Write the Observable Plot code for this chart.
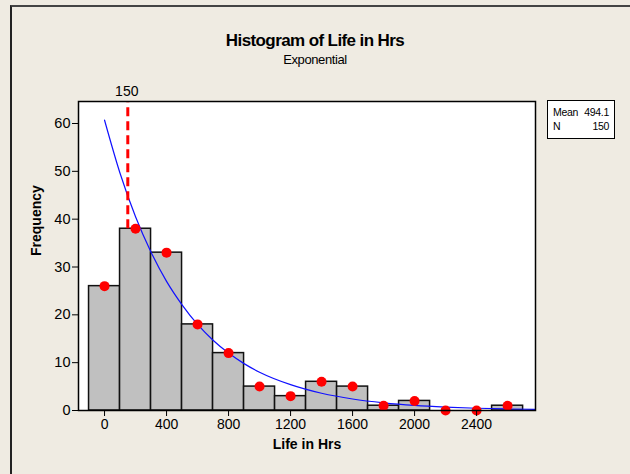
<!DOCTYPE html>
<html>
<head>
<meta charset="utf-8">
<script src="https://cdn.jsdelivr.net/npm/d3@7"></script>
<script src="https://cdn.jsdelivr.net/npm/@observablehq/plot@0.6"></script>
<style>
  html, body { margin: 0; padding: 0; background: #efebe2; }
  #wrap { position: relative; width: 630px; height: 474px; overflow: hidden; background: #efebe2; font-family: "Liberation Sans", Arial, sans-serif; }
  #border { position: absolute; left: 10px; top: 5px; width: 640px; height: 480px; border-left: 2px solid #222; border-top: 2px solid #444; box-sizing: border-box; }
  #title { position: absolute; left: 0; width: 630px; top: 31px; text-align: center; font-weight: bold; font-size: 17px; letter-spacing: -0.6px; color: #000; }
  #subtitle { position: absolute; left: 0; width: 630px; top: 52px; text-align: center; font-size: 13px; letter-spacing: -0.4px; color: #000; }
  #legend { position: absolute; left: 547px; top: 100px; width: 68px; height: 39px; border: 1px solid #000; background: #fff; box-sizing: border-box; font-size: 10.5px; letter-spacing: -0.3px; }
  #legend div { display: flex; justify-content: space-between; padding: 0 5px 0 5px; line-height: 14px; }
  #legend div:first-child { margin-top: 4px; }
  #chart { position: absolute; left: 0; top: 0; }
</style>
</head>
<body>
<div id="wrap">
  <div id="border"></div>
  <div id="chart"></div>
  <div id="title">Histogram of Life in Hrs</div>
  <div id="subtitle">Exponential</div>
  <div id="legend"></div>
</div>
<script>
// Bin centers (bin width 200) and counts
const binCenters = [0, 200, 400, 600, 800, 1000, 1200, 1400, 1600, 1800, 2000, 2200, 2400, 2600];
const counts     = [26, 38, 33, 18, 12, 5, 3, 6, 5, 1, 2, 0, 0, 1];
const binWidth = 200;

// Fitted exponential curve points
const curveX = [0, 100, 200, 300, 400, 500, 600, 700, 800, 900, 1000, 1200, 1400, 1600, 1800, 2000, 2200, 2400, 2600, 2780];
const curveY = [60.7, 49.6, 40.5, 33.1, 27.0, 22.1, 18.0, 14.7, 12.0, 9.8, 8.0, 5.4, 3.6, 2.4, 1.6, 1.06, 0.71, 0.47, 0.32, 0.22];

// Reference line
const refX = [150];
const refLabel = ["150"];

// Tick labels
const xTicks = [0, 400, 800, 1200, 1600, 2000, 2400];
const yTicks = [0, 10, 20, 30, 40, 50, 60];

// Legend
const legendLabels = ["Mean", "N"];
const legendValues = ["494.1", "150"];

const bins = binCenters.map((c, i) => ({x1: c - binWidth / 2, x2: c + binWidth / 2, x: c, y: counts[i]}));
const curve = curveX.map((x, i) => ({x, y: curveY[i]}));
const yMax = 64.6;
const xDomain = [-168, 2780];

const plot = Plot.plot({
  width: 630,
  height: 474,
  marginLeft: 78,
  marginRight: 95,
  marginTop: 101,
  marginBottom: 64,
  style: {background: "transparent", fontFamily: "Liberation Sans, Arial, sans-serif", fontSize: "14px", color: "#000"},
  x: {domain: xDomain, label: null},
  y: {domain: [0, yMax], label: null},
  marks: [
    Plot.frame({fill: "white", stroke: null}),
    Plot.rectY(bins, {x1: "x1", x2: "x2", y: "y", fill: "#c0c0c0", stroke: "#111", strokeWidth: 1.5, inset: 0}),
    Plot.line(curve, {x: "x", y: "y", stroke: "#1010ff", strokeWidth: 1.2, curve: "monotone-x"}),
    Plot.ruleX(refX, {y1: 38, y2: yMax, stroke: "#ff0000", strokeWidth: 3, strokeDasharray: "9,5"}),
    Plot.dot(bins, {x: "x", y: "y", r: 5, fill: "#ff0000", stroke: null}),
    Plot.text(refLabel, {x: refX, y: [yMax], dy: -10, dx: -1, text: d => d, fontSize: 14, clip: false}),
    Plot.frame({stroke: "#000", strokeWidth: 1.5}),
    Plot.axisX({ticks: xTicks, tickSize: 6, tickPadding: 3, tickFormat: d => String(d), fontSize: 14, label: null}),
    Plot.axisY({ticks: yTicks, tickSize: 6, tickPadding: 2, tickFormat: d => String(d), fontSize: 14.5, label: null}),
    Plot.text(["Life in Hrs"], {frameAnchor: "bottom", dy: 38, text: d => d, fontWeight: "bold", fontSize: 14, letterSpacing: "-0.3px"}),
    Plot.text(["Frequency"], {frameAnchor: "left", dx: -42, rotate: -90, text: d => d, fontWeight: "bold", fontSize: 14})
  ]
});
document.getElementById("chart").appendChild(plot);

const leg = document.getElementById("legend");
legendLabels.forEach((l, i) => {
  const row = document.createElement("div");
  const a = document.createElement("span"); a.textContent = l;
  const b = document.createElement("span"); b.textContent = legendValues[i];
  row.appendChild(a); row.appendChild(b);
  leg.appendChild(row);
});
</script>
</body>
</html>
